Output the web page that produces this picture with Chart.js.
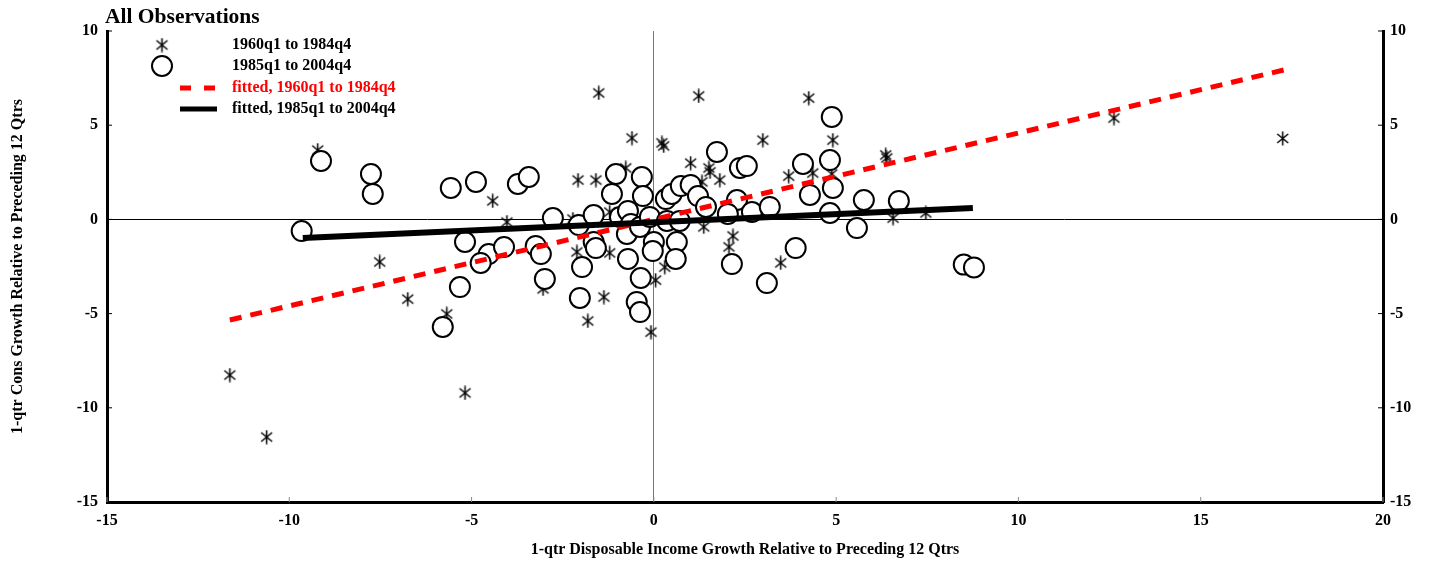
<!DOCTYPE html>
<html>
<head>
<meta charset="utf-8">
<script src="https://cdn.jsdelivr.net/npm/chart.js@4"></script>
<style>
  html, body { margin: 0; padding: 0; background: #fff; }
</style>
</head>
<body>
<canvas id="dataChart" width="1435" height="562"></canvas>
<script>
// 1960q1 to 1984q4 observations (stars)
const starX = [-9.22, -11.63, -10.62, -7.52, -6.75, -5.68, -5.18, -4.42, -4.03, -3.04,
  -2.08, -1.59, -1.51, -1.37, -1.81, -0.6, 0.22, 0.27, -0.08, 1.23,
  4.25, 2.99, 1.01, 1.51, 1.54, 1.81, 1.32, 3.7, 4.36, 4.88,
  4.91, 6.36, 6.39, 12.62, 17.25, 7.46, 6.56, 3.48, 2.17, 2.06,
  1.37, 0.05, 0.3, -1.21, -2.11, -2.22, -0.77, -1.21];
const starY = [3.68, -8.26, -11.55, -2.26, -4.23, -5.02, -9.21, 0.98, -0.14, -3.69,
  2.09, 2.09, 6.71, -4.12, -5.39, 4.32, 4.06, 3.9, -5.98, 6.55,
  6.44, 4.21, 2.99, 2.73, 2.52, 2.09, 1.99, 2.3, 2.46, 2.41,
  4.21, 3.42, 3.26, 5.38, 4.3, 0.34, 0.07, -2.31, -0.88, -1.46,
  -0.4, -3.22, -2.53, -1.78, -1.73, 0.02, 2.73, 0.39];

// 1985q1 to 2004q4 observations (circles)
const circleX = [-9.13, -7.76, -7.71, -9.66, -5.57, -4.88, -3.73, -3.43, -5.18, -4.53,
  -4.75, -4.11, -5.32, -5.79, -2.77, -3.24, -3.1, -2.99, -2.06, -1.65,
  -1.65, -1.59, -1.97, -2.03, -1.04, -1.15, -0.33, -0.3, -0.93, -0.71,
  -0.63, -0.74, -0.38, -0.11, 0.0, -0.03, -0.71, -0.36, -0.47, -0.38,
  0.33, 0.49, 0.74, 1.01, 1.21, 1.43, 0.36, 0.71, 0.63, 0.6,
  1.73, 2.36, 2.55, 2.28, 2.03, 2.69, 3.18, 4.09, 4.83, 4.88,
  4.28, 4.91, 4.83, 5.76, 6.72, 5.57, 3.89, 2.14, 3.1, 8.5, 8.78];
const circleY = [3.1, 2.41, 1.35, -0.62, 1.67, 1.99, 1.88, 2.25, -1.2, -1.84,
  -2.31, -1.47, -3.59, -5.71, 0.07, -1.41, -1.84, -3.16, -0.3, 0.23,
  -1.2, -1.52, -2.53, -4.17, 2.41, 1.35, 2.25, 1.24, 0.13, 0.45,
  -0.24, -0.77, -0.4, 0.13, -1.2, -1.68, -2.1, -3.11, -4.38, -4.92,
  1.08, 1.35, 1.77, 1.83, 1.24, 0.66, -0.08, -0.08, -1.2, -2.1,
  3.58, 2.73, 2.83, 1.03, 0.29, 0.39, 0.66, 2.94, 3.15, 5.44,
  1.3, 1.67, 0.34, 1.03, 0.98, -0.46, -1.52, -2.37, -3.38, -2.4, -2.55];

// fitted lines
const fitEarlyX = [-11.63, 17.28];
const fitEarlyY = [-5.34, 7.93];
const fitLateX = [-9.63, 8.75];
const fitLateY = [-0.99, 0.61];

const legendLabels = ["1960q1 to 1984q4", "1985q1 to 2004q4",
  "fitted, 1960q1 to 1984q4", "fitted, 1985q1 to 2004q4"];

const serif = "'Liberation Serif', 'Times New Roman', serif";

const toPoints = (xs, ys) => xs.map((x, i) => ({ x, y: ys[i] }));

const makeStar = () => {
  const c = document.createElement("canvas");
  c.width = 15;
  c.height = 15;
  const g = c.getContext("2d");
  g.strokeStyle = "#000";
  g.lineWidth = 1.5;
  g.beginPath();
  g.moveTo(7.5, 0.5); g.lineTo(7.5, 14.5);
  g.moveTo(2, 3); g.lineTo(13, 12);
  g.moveTo(2, 12); g.lineTo(13, 3);
  g.stroke();
  return c;
};
const starImg = makeStar();

// legend, title and inward tick marks
const extras = {
  id: "extras",
  afterDraw(chart) {
    const ctx = chart.ctx;
    const area = chart.chartArea;
    ctx.save();

    ctx.fillStyle = "#000";
    ctx.font = "bold 21.5px " + serif;
    ctx.textBaseline = "alphabetic";
    ctx.fillText("All Observations", 105, 23);

    // inward ticks
    ctx.strokeStyle = "#000";
    ctx.lineWidth = 1;
    const ys = chart.scales.y;
    ys.ticks.forEach((t) => {
      const py = ys.getPixelForValue(t.value);
      ctx.beginPath();
      ctx.moveTo(area.left, py); ctx.lineTo(area.left + 5, py);
      ctx.moveTo(area.right - 5, py); ctx.lineTo(area.right, py);
      ctx.stroke();
    });
    const xs = chart.scales.x;
    ctx.strokeStyle = "#888";
    xs.ticks.forEach((t) => {
      const px = xs.getPixelForValue(t.value);
      ctx.beginPath();
      ctx.moveTo(px, area.bottom); ctx.lineTo(px, area.bottom - 5);
      ctx.stroke();
    });

    // legend
    const lx = 162;
    const tx = 232;
    const rows = [45, 66, 88, 109];
    ctx.drawImage(starImg, lx - 7.5, rows[0] - 7.5);
    ctx.beginPath();
    ctx.arc(lx, rows[1], 10, 0, Math.PI * 2);
    ctx.fillStyle = "#fff";
    ctx.fill();
    ctx.strokeStyle = "#000";
    ctx.lineWidth = 2;
    ctx.stroke();

    ctx.strokeStyle = "#ff0000";
    ctx.lineWidth = 5;
    ctx.beginPath();
    ctx.moveTo(180, rows[2]); ctx.lineTo(191, rows[2]);
    ctx.moveTo(204, rows[2]); ctx.lineTo(215, rows[2]);
    ctx.stroke();

    ctx.strokeStyle = "#000";
    ctx.lineWidth = 5;
    ctx.beginPath();
    ctx.moveTo(180, rows[3]); ctx.lineTo(217, rows[3]);
    ctx.stroke();

    ctx.font = "bold 16px " + serif;
    ctx.textBaseline = "middle";
    legendLabels.forEach((lab, i) => {
      ctx.fillStyle = i === 2 ? "#ff0000" : "#000";
      ctx.fillText(lab, tx, rows[i]);
    });
    ctx.restore();
  },
};

const ctxMain = document.getElementById("dataChart").getContext("2d");

const scatter = new Chart(ctxMain, {
  type: "scatter",
  data: {
    datasets: [
      {
        label: legendLabels[3],
        type: "line",
        data: toPoints(fitLateX, fitLateY),
        borderColor: "#000",
        borderWidth: 6,
        pointRadius: 0,
        showLine: true,
        fill: false,
        order: 0,
      },
      {
        label: legendLabels[2],
        type: "line",
        data: toPoints(fitEarlyX, fitEarlyY),
        borderColor: "#ff0000",
        borderWidth: 5,
        borderDash: [12, 9],
        pointRadius: 0,
        showLine: true,
        fill: false,
        order: 1,
      },
      {
        label: legendLabels[1],
        data: toPoints(circleX, circleY),
        pointStyle: "circle",
        pointRadius: 10,
        backgroundColor: "#fff",
        borderColor: "#000",
        borderWidth: 2,
        order: 2,
      },
      {
        label: legendLabels[0],
        data: toPoints(starX, starY),
        pointStyle: starImg,
        pointRadius: 7,
        order: 3,
      },
    ],
  },
  options: {
    responsive: false,
    animation: false,
    layout: { padding: { top: 31, left: 0, right: 0, bottom: 0 } },
    plugins: {
      legend: { display: false },
      tooltip: { enabled: false },
    },
    scales: {
      x: {
        type: "linear",
        position: "bottom",
        min: -15,
        max: 20,
        afterFit: (s) => { s.height = 60; },
        ticks: {
          stepSize: 5,
          padding: 9,
          color: "#000",
          font: { family: serif, size: 16, weight: "bold" },
        },
        grid: {
          drawTicks: false,
          lineWidth: 1,
          color: (c) => (c.tick && c.tick.value === 0 ? "#777" : "rgba(0,0,0,0)"),
        },
        border: { display: true, color: "#000", width: 3 },
        title: {
          display: true,
          text: "1-qtr Disposable Income Growth Relative to Preceding 12 Qtrs",
          color: "#000",
          font: { family: serif, size: 16, weight: "bold" },
          padding: { top: 4, bottom: 3 },
        },
      },
      y: {
        type: "linear",
        position: "left",
        min: -15,
        max: 10,
        afterFit: (s) => { s.width = 107; },
        ticks: {
          stepSize: 5,
          padding: 9,
          color: "#000",
          font: { family: serif, size: 16, weight: "bold" },
        },
        grid: {
          drawTicks: false,
          lineWidth: 1,
          color: (c) => (c.tick && c.tick.value === 0 ? "#000" : "rgba(0,0,0,0)"),
        },
        border: { display: true, color: "#000", width: 3 },
        title: {
          display: true,
          text: "1-qtr Cons Growth Relative to Preceding 12 Qtrs",
          color: "#000",
          font: { family: serif, size: 16, weight: "bold" },
          padding: { top: 8, bottom: 4 },
        },
      },
      y2: {
        type: "linear",
        position: "right",
        min: -15,
        max: 10,
        afterFit: (s) => { s.width = 52; },
        ticks: {
          stepSize: 5,
          padding: 7,
          color: "#000",
          font: { family: serif, size: 16, weight: "bold" },
        },
        grid: { display: false, drawTicks: false },
        border: { display: true, color: "#000", width: 3 },
      },
    },
  },
  plugins: [extras],
});
</script>
</body>
</html>
